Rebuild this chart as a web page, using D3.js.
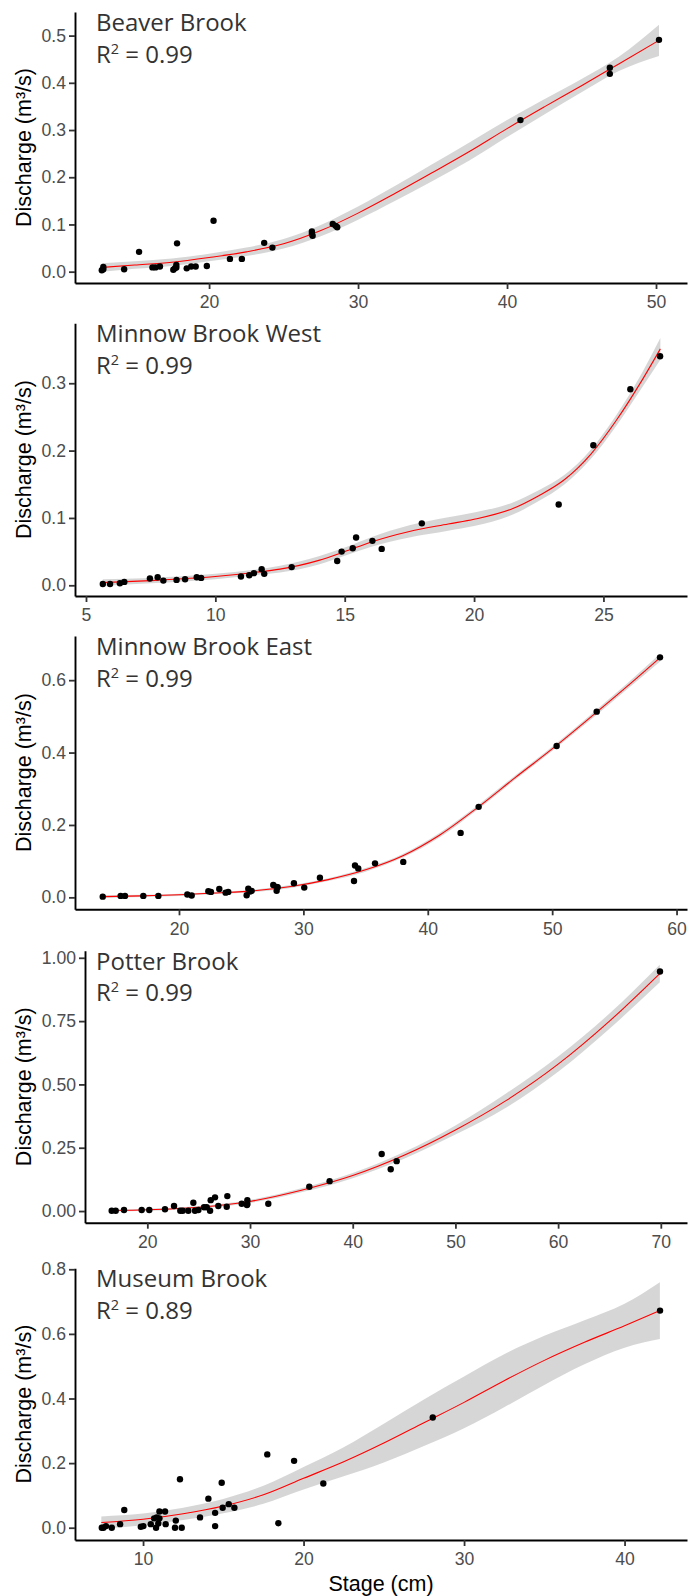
<!DOCTYPE html>
<html>
<head>
<meta charset="utf-8">
<script src="https://cdn.jsdelivr.net/npm/d3@7"></script>
<style>
  body { margin: 0; background: #ffffff; }
</style>
</head>
<body>
<div id="chart"></div>
<script>
// ---- data ----
const siteNames = ["Beaver Brook", "Minnow Brook West", "Minnow Brook East", "Potter Brook", "Museum Brook"];
const r2Values = ["0.99", "0.99", "0.99", "0.99", "0.89"];

// Beaver Brook
const stage1 = [12.8, 12.9, 12.9, 14.3, 15.3, 16.2, 16.4, 16.7, 17.6, 17.7, 17.8, 17.8, 17.85, 18.5, 18.8, 19.1, 19.85, 20.3, 21.4, 22.2, 23.7, 24.25, 26.9, 26.9, 26.95, 28.3, 28.5, 28.6, 40.9, 46.9, 46.9, 50.2];
const q1 = [0.003, 0.005, 0.010, 0.005, 0.042, 0.009, 0.009, 0.011, 0.004, 0.007, 0.009, 0.014, 0.060, 0.007, 0.011, 0.011, 0.012, 0.108, 0.027, 0.027, 0.061, 0.051, 0.085, 0.080, 0.076, 0.101, 0.097, 0.094, 0.321, 0.432, 0.419, 0.491];
const fit1X = [12.8, 15, 17.5, 20, 22.5, 25, 27.5, 30, 32.5, 35, 37.5, 40, 42.5, 45, 47.5, 50.2];
const fit1Y = [0.009, 0.014, 0.020, 0.030, 0.042, 0.059, 0.087, 0.124, 0.166, 0.210, 0.255, 0.303, 0.349, 0.394, 0.440, 0.490];
const fit1Se = [0.009, 0.008, 0.008, 0.008, 0.009, 0.010, 0.012, 0.014, 0.016, 0.018, 0.019, 0.018, 0.016, 0.014, 0.015, 0.033];

// Minnow Brook West
const stage2 = [5.65, 5.93, 6.31, 6.48, 7.47, 7.77, 7.99, 8.5, 8.83, 9.28, 9.45, 10.99, 11.31, 11.49, 11.79, 11.89, 12.95, 14.71, 14.88, 15.31, 15.44, 16.07, 16.43, 17.98, 23.27, 24.61, 26.04, 27.19];
const q2 = [0.002, 0.002, 0.003, 0.005, 0.010, 0.012, 0.007, 0.008, 0.009, 0.012, 0.011, 0.013, 0.015, 0.018, 0.024, 0.017, 0.027, 0.036, 0.050, 0.055, 0.071, 0.066, 0.054, 0.092, 0.120, 0.208, 0.291, 0.340];
const fit2X = [5.65, 7.5, 10, 11.5, 12.5, 14, 15, 16, 17.5, 19, 20, 21.5, 22.5, 23.5, 24.5, 25.5, 26.5, 27.2];
const fit2Y = [0.004, 0.007, 0.013, 0.019, 0.024, 0.037, 0.050, 0.064, 0.080, 0.091, 0.098, 0.114, 0.133, 0.157, 0.194, 0.245, 0.305, 0.351];
const fit2Se = [0.005, 0.004, 0.004, 0.004, 0.005, 0.006, 0.006, 0.007, 0.009, 0.010, 0.010, 0.009, 0.008, 0.007, 0.007, 0.008, 0.011, 0.016];

// Minnow Brook East
const stage3 = [13.87, 15.31, 15.66, 17.13, 18.34, 20.67, 21.02, 22.36, 22.57, 23.24, 23.75, 23.96, 25.44, 25.57, 25.71, 25.84, 27.58, 27.85, 27.85, 27.93, 29.24, 30.07, 31.33, 34.07, 34.15, 34.41, 35.76, 38.03, 42.64, 44.09, 50.36, 53.58, 58.67];
const q3 = [0.002, 0.004, 0.004, 0.004, 0.004, 0.008, 0.005, 0.017, 0.015, 0.023, 0.013, 0.015, 0.006, 0.024, 0.016, 0.018, 0.034, 0.029, 0.018, 0.028, 0.039, 0.027, 0.054, 0.045, 0.088, 0.080, 0.094, 0.098, 0.178, 0.250, 0.418, 0.513, 0.663];
const fit3X = [13.9, 17, 20, 23, 26, 29, 32, 35, 38, 41, 44, 47, 50, 53, 56, 58.7];
const fit3Y = [0.002, 0.004, 0.007, 0.012, 0.018, 0.030, 0.049, 0.076, 0.115, 0.173, 0.248, 0.330, 0.410, 0.495, 0.582, 0.663];
const fit3Se = [0.004, 0.003, 0.003, 0.003, 0.003, 0.004, 0.004, 0.005, 0.005, 0.006, 0.006, 0.006, 0.006, 0.007, 0.008, 0.011];

// Potter Brook
const stage4 = [16.53, 16.92, 17.73, 19.45, 20.19, 21.72, 22.6, 23.21, 23.44, 23.99, 24.48, 24.64, 24.97, 25.52, 25.78, 26.11, 26.17, 26.59, 26.91, 27.73, 27.79, 29.19, 29.74, 29.74, 29.7, 31.78, 35.77, 37.75, 42.82, 43.70, 44.28, 69.92];
const q4 = [0.001, 0.001, 0.004, 0.004, 0.004, 0.007, 0.020, 0.001, 0.001, 0.001, 0.033, 0.001, 0.004, 0.015, 0.015, 0.001, 0.043, 0.054, 0.020, 0.017, 0.059, 0.029, 0.028, 0.043, 0.024, 0.029, 0.096, 0.118, 0.225, 0.165, 0.197, 0.946];
const fit4X = [16.5, 20, 25, 30, 35, 40, 45, 50, 55, 60, 65, 69.9];
const fit4Y = [0.002, 0.005, 0.015, 0.038, 0.082, 0.140, 0.220, 0.320, 0.438, 0.580, 0.750, 0.938];
const fit4Se = [0.004, 0.004, 0.005, 0.006, 0.008, 0.010, 0.013, 0.018, 0.028, 0.030, 0.030, 0.035];

// Museum Brook
const stage5 = [7.43, 7.53, 7.69, 8.05, 8.57, 8.83, 9.86, 10.02, 10.48, 10.69, 10.81, 10.85, 10.95, 11.02, 11.02, 11.37, 11.41, 11.99, 12.04, 12.3, 12.41, 13.55, 14.07, 14.49, 14.49, 14.9, 14.96, 15.34, 15.69, 17.74, 18.43, 19.41, 21.23, 28.05, 42.21];
const q5 = [0.0, 0.0, 0.005, 0.0, 0.011, 0.055, 0.003, 0.005, 0.011, 0.029, 0.0, 0.032, 0.013, 0.029, 0.050, 0.050, 0.011, 0.0, 0.022, 0.150, 0.0, 0.032, 0.090, 0.046, 0.005, 0.139, 0.062, 0.073, 0.062, 0.227, 0.014, 0.207, 0.137, 0.341, 0.672];
const fit5X = [7.4, 10, 12.5, 15, 17.5, 20, 22.5, 25, 27.5, 30, 32.5, 35, 37.5, 40, 42.2];
const fit5Y = [0.016, 0.026, 0.043, 0.067, 0.102, 0.153, 0.204, 0.262, 0.325, 0.388, 0.455, 0.518, 0.574, 0.625, 0.672];
const fit5Se = [0.019, 0.018, 0.019, 0.022, 0.028, 0.035, 0.045, 0.060, 0.072, 0.080, 0.082, 0.076, 0.068, 0.068, 0.088];

// axis ranges and ticks
const xDomains = [[11.0, 52.08], [4.575, 28.23], [11.64, 60.84], [13.93, 72.55], [5.76, 43.89]];
const yDomains = [[-0.024, 0.550], [-0.0159, 0.389], [-0.033, 0.722], [-0.046, 1.028], [-0.038, 0.803]];
const xTicks = [[20, 30, 40, 50], [5, 10, 15, 20, 25], [20, 30, 40, 50, 60], [20, 30, 40, 50, 60, 70], [10, 20, 30, 40]];
const yTicks = [[0, 0.1, 0.2, 0.3, 0.4, 0.5], [0, 0.1, 0.2, 0.3], [0, 0.2, 0.4, 0.6], [0, 0.25, 0.5, 0.75, 1], [0, 0.2, 0.4, 0.6, 0.8]];
const yFormats = [".1f", ".1f", ".1f", ".2f", ".1f"];

const stages = [stage1, stage2, stage3, stage4, stage5];
const discharges = [q1, q2, q3, q4, q5];
const fitXs = [fit1X, fit2X, fit3X, fit4X, fit5X];
const fitYs = [fit1Y, fit2Y, fit3Y, fit4Y, fit5Y];
const fitSes = [fit1Se, fit2Se, fit3Se, fit4Se, fit5Se];

// ---- layout ----
const width = 697, height = 1596;
const plotRight = 687;
const layout = [
  { top: 12, bottom: 283, left: 75 },
  { top: 323.3, bottom: 596, left: 75 },
  { top: 636, bottom: 909.3, left: 75 },
  { top: 950.7, bottom: 1222.7, left: 85 },
  { top: 1268.3, bottom: 1540, left: 75 }
];

const svg = d3.select("#chart")
  .append("svg")
  .attr("width", width)
  .attr("height", height)
  .style("background-color", "#ffffff");

layout.forEach((box, i) => {
  const x = d3.scaleLinear().domain(xDomains[i]).range([box.left, plotRight]);
  const y = d3.scaleLinear().domain(yDomains[i]).range([box.bottom, box.top]);
  const g = svg.append("g").attr("class", "panel");

  const fit = fitXs[i].map((d, k) => ({ x: d, y: fitYs[i][k], se: fitSes[i][k] }));
  const pts = stages[i].map((d, k) => ({ x: d, y: discharges[i][k] }));

  // confidence ribbon
  g.append("path")
    .datum(fit)
    .attr("fill", "#999999")
    .attr("fill-opacity", 0.4)
    .attr("d", d3.area()
      .curve(d3.curveMonotoneX)
      .x(d => x(d.x))
      .y0(d => y(d.y - d.se))
      .y1(d => y(d.y + d.se)));

  // fitted line
  g.append("path")
    .datum(fit)
    .attr("fill", "none")
    .attr("stroke", "#ff0000")
    .attr("stroke-width", 1.1)
    .attr("d", d3.line()
      .curve(d3.curveMonotoneX)
      .x(d => x(d.x))
      .y(d => y(d.y)));

  // observations
  g.append("g")
    .selectAll("circle")
    .data(pts)
    .enter()
    .append("circle")
    .attr("cx", d => x(d.x))
    .attr("cy", d => y(d.y))
    .attr("r", 3.2)
    .attr("fill", "#000000");

  // axes
  const xAxis = g.append("g")
    .attr("transform", `translate(0,${box.bottom})`)
    .call(d3.axisBottom(x).tickValues(xTicks[i]).tickFormat(d3.format("d")).tickSize(6).tickSizeOuter(0).tickPadding(7));
  const yAxis = g.append("g")
    .attr("transform", `translate(${box.left},0)`)
    .call(d3.axisLeft(y).tickValues(yTicks[i]).tickFormat(d3.format(yFormats[i])).tickSize(6).tickSizeOuter(0).tickPadding(3));

  [xAxis, yAxis].forEach(ax => {
    ax.select(".domain").attr("stroke", "#000000").attr("stroke-width", 1.9);
    ax.selectAll(".tick line").attr("stroke", "#333333").attr("stroke-width", 1.8);
    ax.selectAll(".tick text")
      .attr("fill", "#4d4d4d")
      .style("font-family", "'Liberation Sans', Arial, sans-serif")
      .style("font-size", "17.6px");
  });

  // y title
  g.append("text")
    .attr("transform", `translate(31,${(box.top + box.bottom) / 2}) rotate(-90)`)
    .attr("text-anchor", "middle")
    .style("font-family", "'Liberation Sans', Arial, sans-serif")
    .style("font-size", "21.5px")
    .attr("fill", "#000000")
    .text("Discharge (m³/s)");

  // panel label
  const label = g.append("text")
    .attr("x", 96)
    .attr("y", box.top + 19)
    .style("font-family", "'Open Sans', sans-serif")
    .style("font-size", "24px")
    .attr("fill", "#333333");
  label.append("tspan").text(siteNames[i]);

  const r2 = g.append("text")
    .attr("x", 96)
    .attr("y", box.top + 50.5)
    .style("font-family", "'Open Sans', sans-serif")
    .style("font-size", "24px")
    .attr("fill", "#333333");
  r2.append("tspan").text("R");
  r2.append("tspan").attr("dy", -9).style("font-size", "14.5px").text("2");
  r2.append("tspan").attr("dy", 9).text(" = " + r2Values[i]);
});

// x title
svg.append("text")
  .attr("x", (75 + plotRight) / 2)
  .attr("y", 1591)
  .attr("text-anchor", "middle")
  .style("font-family", "'Liberation Sans', Arial, sans-serif")
  .style("font-size", "21.5px")
  .attr("fill", "#000000")
  .text("Stage (cm)");
</script>
</body>
</html>
